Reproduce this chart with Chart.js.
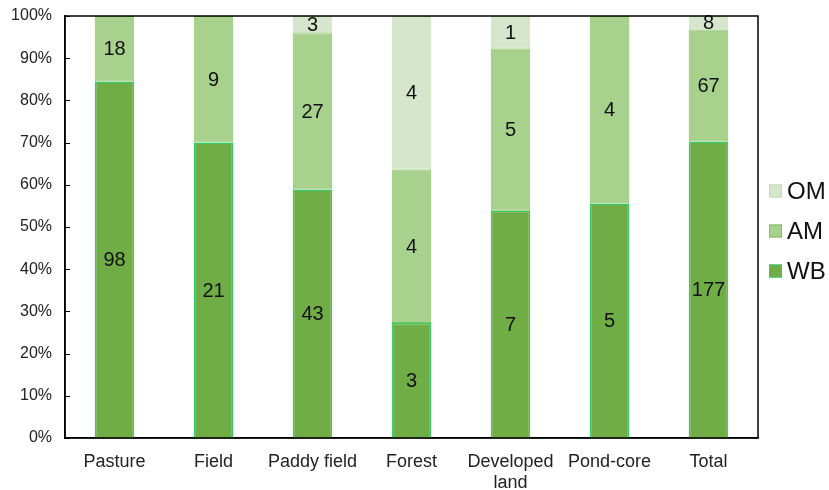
<!DOCTYPE html>
<html>
<head>
<meta charset="utf-8">
<script src="https://cdn.jsdelivr.net/npm/chart.js@4/dist/chart.umd.min.js"></script>
<style>
  html, body { margin: 0; padding: 0; background: #fff; }
  #wrap { width: 829px; height: 490px; }
</style>
</head>
<body>
<div id="wrap"><canvas id="c" width="829" height="490"></canvas></div>
<script>
// Land-use categories and the number of sites per class
const categories = ['Pasture', 'Field', 'Paddy field', 'Forest', ['Developed', 'land'], 'Pond-core', 'Total'];
const wbCounts = [98, 21, 43, 3, 7, 5, 177];
const amCounts = [18, 9, 27, 4, 5, 4, 67];
const omCounts = [0, 0, 3, 4, 1, 0, 8];
const yTicks = [0, 10, 20, 30, 40, 50, 60, 70, 80, 90, 100];

const totals = wbCounts.map((v, i) => v + amCounts[i] + omCounts[i]);
const share = arr => arr.map((v, i) => v / totals[i] * 100);

const FONT = '"Liberation Sans", Arial, sans-serif';
const LEGEND_W = 71;

// Count labels in each segment, the plot frame, inward ticks and the legend
const decor = {
  id: 'decor',
  afterDatasetsDraw(chart) {
    const ctx = chart.ctx;
    ctx.save();
    ctx.font = '20px ' + FONT;
    ctx.fillStyle = '#111';
    ctx.textAlign = 'center';
    ctx.textBaseline = 'middle';
    chart.data.datasets.forEach((ds, di) => {
      const meta = chart.getDatasetMeta(di);
      meta.data.forEach((bar, i) => {
        const n = ds.counts[i];
        if (!n) return;
        ctx.fillText(String(n), bar.x, (bar.y + bar.base) / 2 + 1);
      });
    });

    const a = chart.chartArea;
    ctx.strokeStyle = '#000';
    ctx.lineWidth = 1.5;
    ctx.strokeRect(a.left, a.top, a.right - a.left, a.bottom - a.top);
    const ys = chart.scales.y;
    ctx.lineWidth = 1;
    yTicks.forEach(t => {
      const py = Math.round(ys.getPixelForValue(t)) + 0.5;
      ctx.beginPath();
      ctx.moveTo(a.left, py);
      ctx.lineTo(a.left + 5, py);
      ctx.stroke();
    });

    // legend, top entry is the last series
    const items = chart.data.datasets.slice().reverse();
    const gap = 40;
    const cy0 = (a.top + a.bottom) / 2 - gap + 4;
    ctx.font = '24px ' + FONT;
    ctx.textAlign = 'left';
    items.forEach((ds, k) => {
      const cy = cy0 + k * gap;
      const bx = a.right + 11;
      ctx.fillStyle = ds.backgroundColor;
      ctx.fillRect(bx, cy - 6.5, 13, 13);
      ctx.strokeStyle = ds.borderColor;
      ctx.lineWidth = 1;
      ctx.strokeRect(bx + 0.5, cy - 6, 12, 12);
      ctx.fillStyle = '#111';
      ctx.fillText(ds.label, bx + 18, cy + 1);
    });
    ctx.restore();
  }
};

new Chart(document.getElementById('c'), {
  type: 'bar',
  data: {
    labels: categories,
    datasets: [
      { label: 'WB', data: share(wbCounts), counts: wbCounts,
        backgroundColor: '#70AD47', borderColor: '#33CC66', borderWidth: 1.5, borderSkipped: 'bottom' },
      { label: 'AM', data: share(amCounts), counts: amCounts,
        backgroundColor: '#A9D18E', borderColor: '#80C05A', borderWidth: 1, borderSkipped: false },
      { label: 'OM', data: share(omCounts), counts: omCounts,
        backgroundColor: '#D6E6CC', borderColor: '#C2DDB0', borderWidth: 1, borderSkipped: false }
    ]
  },
  options: {
    responsive: false,
    animation: false,
    layout: { padding: { top: 16, right: LEGEND_W, left: 0, bottom: 0 } },
    datasets: { bar: { barPercentage: 0.4, categoryPercentage: 1.0 } },
    scales: {
      x: {
        stacked: true,
        grid: { display: false, drawTicks: false },
        border: { display: true, color: '#000', width: 1.5 },
        ticks: { color: '#222', font: { family: FONT, size: 18 }, padding: 13, maxRotation: 0, autoSkip: false },
        afterFit(scale) { scale.height = 52; scale.paddingLeft = 0; scale.paddingRight = 0; }
      },
      y: {
        stacked: true,
        min: 0, max: 100,
        afterBuildTicks(scale) { scale.ticks = yTicks.map(v => ({ value: v })); },
        grid: { display: false, drawTicks: false },
        border: { display: true, color: '#000', width: 1.5 },
        ticks: { color: '#222', font: { family: FONT, size: 16 }, padding: 13, callback: v => v + '%' },
        afterFit(scale) { scale.width = 65; scale.paddingTop = 0; scale.paddingBottom = 0; }
      }
    },
    plugins: {
      legend: { display: false },
      tooltip: { enabled: false }
    }
  },
  plugins: [decor]
});
</script>
</body>
</html>
